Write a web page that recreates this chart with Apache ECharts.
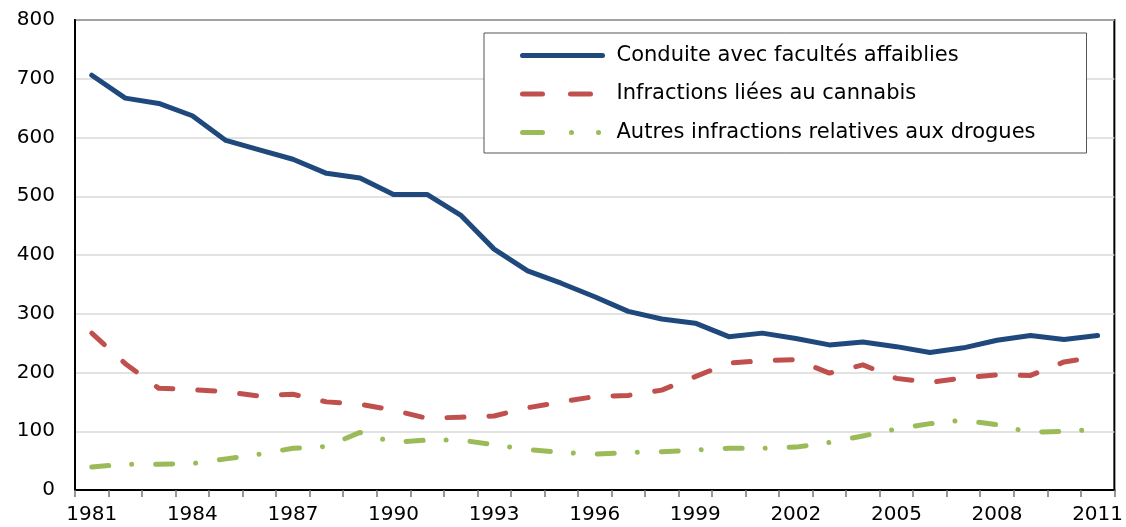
<!DOCTYPE html>
<html>
<head>
<meta charset="utf-8">
<script src="https://cdn.jsdelivr.net/npm/echarts@6/dist/echarts.min.js"></script>
<style>
  html, body { margin: 0; padding: 0; background: #fff; }
  #main { width: 1126px; height: 527px; }
</style>
</head>
<body>
<div id="main"></div>
<script>
// années
var years = [];
for (var y = 1981; y <= 2011; y++) years.push(String(y));

// taux par 100 000 habitants
var conduite = [706, 667, 658, 637, 595, 579, 563, 539, 531, 503, 503, 468, 410, 373, 352, 329, 304, 291, 284, 261, 267, 258, 247, 252, 244, 234, 242, 255, 263, 256, 263];
var cannabis = [267, 215, 173, 171, 167, 160, 163, 150, 146, 136, 122, 124, 126, 140, 150, 159, 161, 170, 193, 216, 220, 222, 199, 213, 190, 183, 191, 196, 195, 218, 227];
var autres = [39, 44, 44, 45, 53, 61, 71, 74, 98, 81, 85, 85, 77, 69, 64, 61, 64, 65, 68, 71, 71, 73, 81, 92, 104, 113, 119, 111, 98, 100, 103];

var seriesNames = ['Conduite avec facultés affaiblies', 'Infractions liées au cannabis', 'Autres infractions relatives aux drogues'];

var myChart = echarts.init(document.getElementById('main'));

var font = 'DejaVu Sans';

var option = {
  animation: false,
  textStyle: { fontFamily: font },
  grid: {
    left: 75, right: 9, top: 20, bottom: 37,
    show: true, borderColor: '#000', borderWidth: 2
  },
  legend: {
    orient: 'vertical',
    left: 484, top: 33,
    padding: [12, 51, 10, 36],
    itemWidth: 80, itemHeight: 20, itemGap: 17.5,
    backgroundColor: '#fff',
    borderColor: '#555', borderWidth: 1,
    itemStyle: { opacity: 0 },
    lineStyle: { width: 5, cap: 'round' },
    textStyle: { fontFamily: font, fontSize: 21, lineHeight: 20, color: '#000', padding: [0, 0, 0, 9] },
    data: [
      { name: seriesNames[0] },
      { name: seriesNames[1], lineStyle: { type: [20, 28, 20, 100] } },
      { name: seriesNames[2], lineStyle: { type: [20, 29, 0.01, 27, 0.01, 100] } }
    ]
  },
  xAxis: {
    type: 'category',
    data: years,
    boundaryGap: true,
    axisLine: { lineStyle: { color: '#000', width: 2 } },
    axisTick: { show: true, interval: 0, length: 7, lineStyle: { color: '#777', width: 1.5 } },
    axisLabel: { interval: 2, fontSize: 20, color: '#000', margin: 15, fontFamily: font }
  },
  yAxis: {
    type: 'value',
    min: 0, max: 800, interval: 100,
    axisLine: { show: true, lineStyle: { color: '#000', width: 2 } },
    axisTick: { show: false },
    axisLabel: { fontSize: 20, color: '#000', margin: 20, fontFamily: font },
    splitLine: { lineStyle: { color: '#d9d9d9', width: 1.5 } }
  },
  series: [{
    name: seriesNames[0],
    type: 'line',
    data: conduite,
    symbol: 'none',
    lineStyle: { color: '#1f497d', width: 5, cap: 'round', join: 'round' },
    itemStyle: { color: '#1f497d' }
  }, {
    name: seriesNames[1],
    type: 'line',
    data: cannabis,
    symbol: 'none',
    lineStyle: { color: '#c0504d', width: 5, type: [17, 25], cap: 'round', join: 'round' },
    itemStyle: { color: '#c0504d' }
  }, {
    name: seriesNames[2],
    type: 'line',
    data: autres,
    symbol: 'none',
    lineStyle: { color: '#9bbb59', width: 5, type: [17, 23, 0.01, 24], cap: 'round', join: 'round' },
    itemStyle: { color: '#9bbb59' }
  }]
};

myChart.setOption(option);
</script>
</body>
</html>
